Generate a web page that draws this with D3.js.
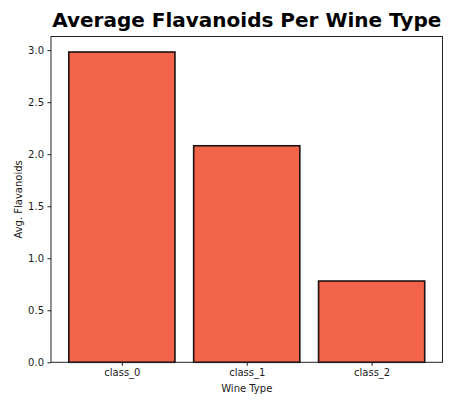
<!DOCTYPE html>
<html>
<head>
<meta charset="utf-8">
<script src="https://cdn.jsdelivr.net/npm/d3@7"></script>
<style>
  html, body { margin: 0; padding: 0; background: #fff; }
  svg text { font-family: "DejaVu Sans", sans-serif; fill: #1a1a1a; }
</style>
</head>
<body>
<div id="chart"></div>
<script>
// Mean flavanoids per class in the wine dataset
const categories = ["class_0", "class_1", "class_2"];
const avgFlavanoids = [2.982, 2.081, 0.781];
const yTicks = [0.0, 0.5, 1.0, 1.5, 2.0, 2.5, 3.0];

const W = 467, H = 419;
const margin = { top: 36.5, right: 24.5, bottom: 56.7, left: 51 };
const innerW = W - margin.left - margin.right;
const innerH = H - margin.top - margin.bottom;

const svg = d3.select("#chart").append("svg")
  .attr("width", W).attr("height", H);

// title
svg.append("text")
  .attr("x", margin.left + innerW / 2)
  .attr("y", 26.5)
  .attr("text-anchor", "middle")
  .style("font-size", "20px")
  .style("font-weight", "bold")
  .style("fill", "#000")
  .text("Average Flavanoids Per Wine Type");

const g = svg.append("g")
  .attr("transform", `translate(${margin.left},${margin.top})`);

// matplotlib-like: bar width 0.85, 5% margins on each side
const barW = 0.85;
const lo = -barW / 2, hi = categories.length - 1 + barW / 2;
const pad = (hi - lo) * 0.05;
const x = d3.scaleLinear().domain([lo - pad, hi + pad]).range([0, innerW]);
const y = d3.scaleLinear().domain([0, d3.max(avgFlavanoids) * 1.05]).range([innerH, 0]);

const data = categories.map((c, i) => ({ c, i, v: avgFlavanoids[i] }));

g.selectAll("rect.bar").data(data).enter().append("rect")
  .attr("class", "bar")
  .attr("x", d => x(d.i - barW / 2))
  .attr("width", d => x(d.i + barW / 2) - x(d.i - barW / 2))
  .attr("y", d => y(d.v))
  .attr("height", d => y(0) - y(d.v))
  .attr("fill", "#f4644a")
  .attr("stroke", "#1c1311")
  .attr("stroke-width", 1.6);

// frame
g.append("rect")
  .attr("width", innerW).attr("height", innerH)
  .attr("fill", "none").attr("stroke", "#222").attr("stroke-width", 1);

// y axis
const yAxis = g.append("g")
  .call(d3.axisLeft(y).tickValues(yTicks).tickFormat(d3.format(".1f")).tickSize(3.5).tickPadding(3.5));
yAxis.select(".domain").remove();
yAxis.selectAll("line").attr("stroke", "#222");
yAxis.selectAll("text").style("font-size", "10px").style("font-family", "DejaVu Sans, sans-serif").attr("fill", "#1a1a1a");

// x axis
const xAxis = g.append("g")
  .attr("transform", `translate(0,${innerH})`)
  .call(d3.axisBottom(x).tickValues(data.map(d => d.i)).tickFormat(i => categories[i]).tickSize(3.5).tickPadding(3.5));
xAxis.select(".domain").remove();
xAxis.selectAll("line").attr("stroke", "#222");
xAxis.selectAll("text").style("font-size", "10px").style("font-family", "DejaVu Sans, sans-serif").attr("fill", "#1a1a1a");

// axis labels
svg.append("text")
  .attr("x", margin.left + innerW / 2)
  .attr("y", 392)
  .attr("text-anchor", "middle")
  .style("font-size", "10px")
  .text("Wine Type");

svg.append("text")
  .attr("transform", `translate(22,${margin.top + innerH / 2}) rotate(-90)`)
  .attr("text-anchor", "middle")
  .style("font-size", "10px")
  .text("Avg. Flavanoids");
</script>
</body>
</html>
